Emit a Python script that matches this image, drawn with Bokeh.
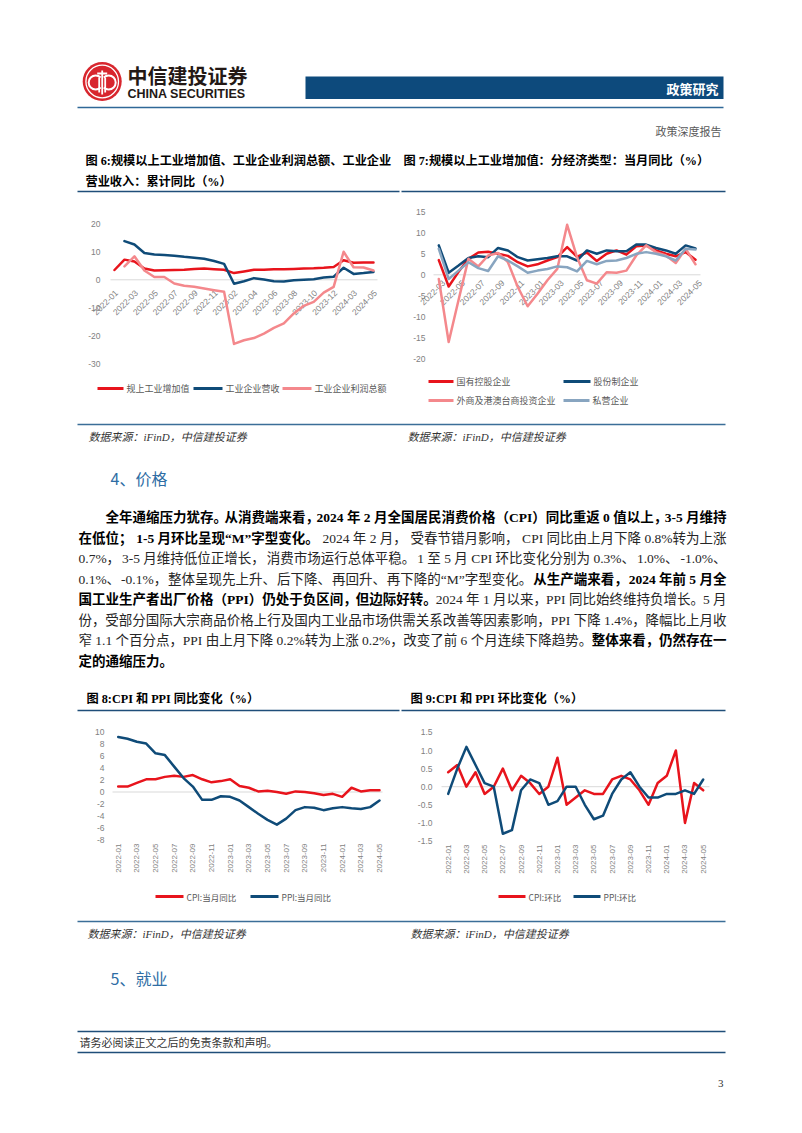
import math
from bokeh.plotting import figure
from bokeh.models import Range1d
from bokeh.core.properties import value
from bokeh.embed import file_html
from bokeh.resources import INLINE

nan = float("nan")

# ------------------------------------------------------------------ data
# Fig 6: cumulative YoY (%)
fig6_months = ["2022-01", "2022-02", "2022-03", "2022-04", "2022-05", "2022-06", "2022-07",
               "2022-08", "2022-09", "2022-10", "2022-11", "2022-12", "2023-02", "2023-03",
               "2023-04", "2023-05", "2023-06", "2023-07", "2023-08", "2023-09", "2023-10",
               "2023-11", "2023-12", "2024-02", "2024-03", "2024-04", "2024-05"]
fig6_value_added = [3.5, 7.2, 6.5, 4.0, 3.3, 3.4, 3.5, 3.6, 3.9, 4.0, 3.8, 3.6, 2.4, 3.0,
                    3.6, 3.6, 3.8, 3.8, 3.9, 4.0, 4.1, 4.3, 4.6, 7.0, 6.1, 6.2, 6.2]
fig6_revenue = [nan, 13.8, 12.6, 9.6, 9.0, 8.9, 8.6, 8.2, 7.9, 7.5, 6.7, 5.7, -1.4, -0.5,
                0.6, 0.1, -0.5, -0.6, -0.2, 0.0, 0.2, 0.8, 1.1, 4.3, 2.1, 2.4, 2.8]
fig6_profit = [nan, 4.8, 8.4, 3.3, 1.0, 1.0, -1.3, -2.1, -2.5, -3.1, -3.7, -4.3, -22.9, -21.6,
               -20.8, -19.2, -17.2, -15.6, -12.0, -9.3, -7.9, -4.6, -2.5, 10.0, 4.5, 4.4, 3.3]
fig6_yticks = [20, 10, 0, -10, -20, -30]
fig6_names = ["规上工业增加值", "工业企业营收", "工业企业利润总额"]

# Fig 7: monthly YoY by ownership (%)
fig7_months = ["2022-03", "2022-04", "2022-05", "2022-06", "2022-07", "2022-08", "2022-09",
               "2022-10", "2022-11", "2022-12", "2023-01", "2023-02", "2023-03", "2023-04",
               "2023-05", "2023-06", "2023-07", "2023-08", "2023-09", "2023-10", "2023-11",
               "2023-12", "2024-01", "2024-02", "2024-03", "2024-04", "2024-05"]
fig7_state = [3.5, -2.8, 0.7, 3.8, 5.3, 5.5, 5.0, 4.5, 3.0, 2.0, 2.5, 3.4, 4.2, 6.6,
              4.3, 5.3, 3.3, 5.0, 5.8, 4.8, 6.8, 7.0, 5.8, 5.0, 4.4, 5.4, 3.6]
fig7_shareholding = [7.0, 0.5, 2.2, 4.0, 4.4, 4.2, 6.4, 5.8, 4.2, 3.4, 3.7, 4.0, 4.4, 4.4,
                     3.4, 5.8, 5.0, 5.8, 5.6, 5.6, 7.2, 7.2, 6.4, 5.8, 5.0, 7.0, 6.3]
fig7_foreign = [-1.0, -16.0, -6.0, 3.8, 2.0, 4.6, 5.2, 3.0, -2.9, -7.5, -4.5, -1.3, 1.4, 11.9,
                4.2, -1.3, -2.1, 0.6, 0.5, 1.0, 4.6, 7.0, 5.4, 4.6, 2.8, 6.2, 2.5]
fig7_private = [6.2, -1.0, 1.0, 3.0, 1.6, 0.9, 4.4, 3.4, 2.0, 0.5, 1.0, 1.4, 2.0, 1.8,
                0.8, 3.3, 2.5, 3.3, 3.4, 4.0, 5.0, 5.4, 5.0, 4.4, 3.4, 6.2, 6.0]
fig7_yticks = [15, 10, 5, 0, -5, -10, -15, -20]
fig7_names = ["国有控股企业", "股份制企业", "外商及港澳台商投资企业", "私营企业"]

# Fig 8 / Fig 9: CPI and PPI (%)
fig89_months = ["2022-01", "2022-02", "2022-03", "2022-04", "2022-05", "2022-06", "2022-07",
                "2022-08", "2022-09", "2022-10", "2022-11", "2022-12", "2023-01", "2023-02",
                "2023-03", "2023-04", "2023-05", "2023-06", "2023-07", "2023-08", "2023-09",
                "2023-10", "2023-11", "2023-12", "2024-01", "2024-02", "2024-03", "2024-04",
                "2024-05"]
fig8_cpi_yoy = [0.9, 0.9, 1.5, 2.1, 2.1, 2.5, 2.7, 2.5, 2.8, 2.1, 1.6, 1.8, 2.1, 1.0, 0.7,
                0.1, 0.2, 0.0, -0.3, 0.1, 0.0, -0.2, -0.5, -0.3, -0.8, 0.7, 0.1, 0.3, 0.3]
fig8_ppi_yoy = [9.1, 8.8, 8.3, 8.0, 6.4, 6.1, 4.2, 2.3, 0.9, -1.3, -1.3, -0.7, -0.8, -1.4, -2.5,
                -3.6, -4.6, -5.4, -4.4, -3.0, -2.5, -2.6, -3.0, -2.7, -2.5, -2.7, -2.8, -2.5, -1.4]
fig8_yticks = [10, 8, 6, 4, 2, 0, -2, -4, -6, -8]
fig8_names = ["CPI:当月同比", "PPI:当月同比"]

fig9_cpi_mom = [0.4, 0.6, 0.0, 0.4, -0.2, 0.0, 0.5, -0.1, 0.3, 0.1, -0.2, 0.0, 0.8, -0.5, -0.3,
                -0.1, -0.2, -0.2, 0.2, 0.3, 0.2, -0.1, -0.5, 0.1, 0.3, 1.0, -1.0, 0.1, -0.1]
fig9_ppi_mom = [-0.2, 0.5, 1.1, 0.6, 0.1, 0.0, -1.3, -1.2, -0.1, 0.2, 0.1, -0.5, -0.4, 0.0, 0.0,
                -0.5, -0.9, -0.8, -0.2, 0.2, 0.4, 0.0, -0.3, -0.3, -0.2, -0.2, -0.1, -0.2, 0.2]
fig9_yticks = [1.5, 1.0, 0.5, 0.0, -0.5, -1.0, -1.5]
fig9_names = ["CPI:环比", "PPI:环比"]

# body text: one list of (text, style) runs per printed line
para_lines = [
    [("全年通缩压力犹存。从消费端来看，2024 年 2 月全国居民消费价格（CPI）同比重返 0 值以上，3-5 月维持", "bold")],
    [("在低位；1-5 月环比呈现“M”字型变化。", "bold"),
     ("2024 年 2 月，受春节错月影响，CPI 同比由上月下降 0.8%转为上涨", "normal")],
    [("0.7%，3-5 月维持低位正增长，消费市场运行总体平稳。1 至 5 月 CPI 环比变化分别为 0.3%、1.0%、-1.0%、", "normal")],
    [("0.1%、-0.1%，整体呈现先上升、后下降、再回升、再下降的“M”字型变化。", "normal"),
     ("从生产端来看，2024 年前 5 月全", "bold")],
    [("国工业生产者出厂价格（PPI）仍处于负区间，但边际好转。", "bold"),
     ("2024 年 1 月以来，PPI 同比始终维持负增长。5 月", "normal")],
    [("份，受部分国际大宗商品价格上行及国内工业品市场供需关系改善等因素影响，PPI 下降 1.4%，降幅比上月收", "normal")],
    [("窄 1.1 个百分点，PPI 由上月下降 0.2%转为上涨 0.2%，改变了前 6 个月连续下降趋势。", "normal"),
     ("整体来看，仍然存在一", "bold")],
    [("定的通缩压力。", "bold")],
]

# ------------------------------------------------------------------ styles
RED = "#E8141C"
NAVY = "#0F4B78"
PINK = "#F4888C"
STEEL = "#88A5C0"
TICK = "#7F7F7F"
LEG = "#595959"
RULE = "#1F4E79"
CJK = "Noto Sans CJK SC"
MIX = "Liberation Serif, Noto Sans CJK SC"
SANS = "Liberation Sans"
TITLE_FS = 12.2

W, H = 802, 1133

p = figure(width=W, height=H, x_range=Range1d(0, W), y_range=Range1d(H, 0),
           output_backend="svg", toolbar_location=None, tools="",
           x_axis_type=None, y_axis_type=None, min_border=0,
           outline_line_color=None, background_fill_color="white",
           border_fill_color="white")


def txt(x, y, s, size, color="#000000", style="normal", align="left", font=CJK,
        baseline="middle"):
    p.text(x=[x], y=[y], text=[s], text_font=value(font),
           text_font_size=value(f"{size}px"), text_font_style=style, text_color=color,
           text_align=align, text_baseline=baseline)


def hline(x0, x1, y, color=RULE, width=1.5):
    p.segment(x0=[x0], y0=[y], x1=[x1], y1=[y], line_color=color, line_width=width)


def make_chart(name, px0, i0, px1, i1, pya, va, pyb, vb):
    sx = (px1 - px0) / (i1 - i0)
    ky = (pya - pyb) / (va - vb)
    xr = dict(p.extra_x_ranges)
    xr[name] = Range1d(start=i0 - px0 / sx, end=i0 + (W - px0) / sx)
    p.extra_x_ranges = xr
    yr = dict(p.extra_y_ranges)
    yr[name] = Range1d(start=va + (H - pya) / ky, end=va - pya / ky)
    p.extra_y_ranges = yr

    def xv(px):
        return i0 + (px - px0) / sx

    def yv(py):
        return va + (py - pya) / ky
    return name, xv, yv


def chart_body(ch, series, yticks, tick_fmt, tick_right, tick_size, zero_l, zero_r,
               months, lab_y, lab_angle, lab_dx, lab_size):
    name, xv, yv = ch
    p.segment(x0=[xv(zero_l)], y0=[0], x1=[xv(zero_r)], y1=[0], line_color="#D9D9D9",
              line_width=1, x_range_name=name, y_range_name=name)
    p.text(x=[xv(tick_right)] * len(yticks), y=yticks, text=[tick_fmt(t) for t in yticks],
           text_font=value(SANS), text_font_size=value(f"{tick_size}px"), text_color=TICK,
           text_align="right", text_baseline="middle", x_range_name=name, y_range_name=name)
    idx = list(range(0, len(months), 2))
    p.text(x=idx, y=[yv(lab_y)] * len(idx), text=[months[i] for i in idx],
           text_font=value(SANS), text_font_size=value(f"{lab_size}px"), text_color=TICK,
           text_align="right", text_baseline="middle", angle=lab_angle, x_offset=lab_dx,
           x_range_name=name, y_range_name=name)
    for ys, color in series:
        p.line(x=list(range(len(ys))), y=ys, line_color=color, line_width=2.5,
               line_join="round", line_cap="round", x_range_name=name, y_range_name=name)


def legend_item(x0, x1, y, color, label, size):
    hline(x0, x1, y, color=color, width=3)
    txt(x1 + 3, y, label, size, color=LEG)


# ------------------------------------------------------------------ header
cx, cy = 101.7, 81
p.circle(x=[cx], y=[cy], radius=19.5, fill_color="#D8262E", line_color=None)
p.circle(x=[cx], y=[cy], radius=16.3, fill_color=None, line_color="white", line_width=1.3)
p.arc(x=[cx - 6.5], y=[cy + 1], radius=7, start_angle=math.radians(45),
      end_angle=math.radians(315), line_color="white", line_width=2)
p.arc(x=[cx + 6.5], y=[cy + 1], radius=7, start_angle=math.radians(-135),
      end_angle=math.radians(135), line_color="white", line_width=2)
p.segment(x0=[cx, cx - 5, cx - 3, cx + 3], y0=[cy - 11, cy - 8, cy - 4, cy - 4],
          x1=[cx, cx + 5, cx - 3, cx + 3], y1=[cy + 13, cy - 8, cy + 11, cy + 11],
          line_color="white", line_width=1.8)

txt(127, 75, "中信建投证券", 20, color="#231815", style="bold")
txt(127, 93.5, "CHINA SECURITIES", 12.5, color="#231815", style="bold", font=SANS)
p.quad(left=[305], right=[723], top=[76], bottom=[98.5], fill_color="#0D4A7C", line_color=None)
txt(718, 88, "政策研究", 13, color="white", style="bold", align="right")
hline(77, 723, 107, color="#2F6897", width=1.5)
txt(721, 130, "政策深度报告", 11, color="#595959", align="right")

# ------------------------------------------------------------------ fig 6 & 7
txt(85, 160, "图 6:规模以上工业增加值、工业企业利润总额、工业企业", TITLE_FS, style="bold", font=MIX)
txt(85, 181, "营业收入：累计同比（%）", TITLE_FS, style="bold", font=MIX)
txt(403, 160, "图 7:规模以上工业增加值：分经济类型：当月同比（%）", TITLE_FS, style="bold", font=MIX)
hline(77, 399, 191)
hline(401, 725, 191)

c6 = make_chart("c6", 114, 0, 373, 26, 279.3, 0, 223.3, 20)
chart_body(c6, [(fig6_value_added, RED), (fig6_revenue, NAVY), (fig6_profit, PINK)],
           fig6_yticks, lambda t: f"{t:d}", 100, 8.5, 110, 377, fig6_months,
           291, math.pi / 4, 2, 8.5)
legend_item(97, 123, 388, RED, fig6_names[0], 9)
legend_item(193, 222, 388, NAVY, fig6_names[1], 9)
legend_item(282, 311, 388, PINK, fig6_names[2], 9)

c7 = make_chart("c7", 438.3, 0, 695, 26, 274.3, 0, 253.3, 5)
chart_body(c7, [(fig7_state, RED), (fig7_shareholding, NAVY), (fig7_foreign, PINK),
                (fig7_private, STEEL)],
           fig7_yticks, lambda t: f"{t:d}", 425, 8.5, 433, 700, fig7_months,
           281, math.pi / 4, 5, 8.5)
legend_item(428, 453, 381, RED, fig7_names[0], 9)
legend_item(563, 590, 381, NAVY, fig7_names[1], 9)
legend_item(428, 453, 400, PINK, fig7_names[2], 9)
legend_item(563, 589, 400, STEEL, fig7_names[3], 9)

hline(77, 725, 424, color="#3B6E98", width=1.5)
txt(88, 436.5, "数据来源：iFinD，中信建投证券", 11, color="#333333", style="italic", font=MIX)
txt(407, 436.5, "数据来源：iFinD，中信建投证券", 11, color="#333333", style="italic", font=MIX)

# ------------------------------------------------------------------ body text
txt(110, 477, "4、价格", 16, color="#2E6DA4")

# advance widths (em) of the Latin glyphs (Times metrics); CJK glyphs are 1 em
LAT_R = {" ": .25, ".": .25, "%": .833, "-": .333, "C": .667, "P": .556, "I": .333,
         "M": .889, "“": .444, "”": .444}
LAT_B = {" ": .25, ".": .25, "%": 1.0, "-": .333, "C": .722, "P": .611, "I": .389,
         "M": .944, "“": .5, "”": .5}
PUNCT = "，、。；："


def em_width(s, style):
    tab = LAT_B if style == "bold" else LAT_R
    w = 0.0
    for ch in s:
        if ch.isdigit():
            w += 0.5
        elif ch in tab:
            w += tab[ch]
        else:
            w += 1.0
    return w


def split_chunks(runs):
    out = []
    for s, st in runs:
        cur = ""
        for ch in s:
            cur += ch
            if ch in PUNCT:
                out.append((cur, st))
                cur = ""
        if cur:
            out.append((cur, st))
    return out


FS = 13.5
LEFT, RIGHT, INDENT = 78, 726, 105
for k, runs in enumerate(para_lines):
    y = 517 + 20.5 * k
    x0 = INDENT if k == 0 else LEFT
    chunks = split_chunks(runs)
    widths = [em_width(s, st) * FS for s, st in chunks]
    last = k == len(para_lines) - 1
    gap = 0.0
    if not last and len(chunks) > 1:
        gap = (RIGHT - x0 - sum(widths)) / (len(chunks) - 1)
    x = x0
    for (s, st), w in zip(chunks, widths):
        col = "#000000" if st == "bold" else "#262626"
        txt(x, y, s, FS, color=col, style=st, font=MIX)
        x += w + gap

# ------------------------------------------------------------------ fig 8 & 9
txt(86, 698, "图 8:CPI 和 PPI 同比变化（%）", TITLE_FS, style="bold", font=MIX)
txt(410, 698, "图 9:CPI 和 PPI 环比变化（%）", TITLE_FS, style="bold", font=MIX)
hline(77, 399, 710)
hline(401, 725, 710)

c8 = make_chart("c8", 117.7, 0, 379, 28, 791.5, 0, 731, 10)
chart_body(c8, [(fig8_cpi_yoy, RED), (fig8_ppi_yoy, NAVY)],
           fig8_yticks, lambda t: f"{t:d}", 104, 8.5, 112, 382, fig89_months,
           843, math.pi / 2, 0, 8)
legend_item(155, 183, 896, RED, fig8_names[0], 8.5)
legend_item(250, 278, 896, NAVY, fig8_names[1], 8.5)

c9 = make_chart("c9", 447.7, 0, 702.7, 28, 786.2, 0, 731.9, 1.5)
chart_body(c9, [(fig9_cpi_mom, RED), (fig9_ppi_mom, NAVY)],
           fig9_yticks, lambda t: f"{t:.1f}", 432, 8.5, 441, 709, fig89_months,
           844, math.pi / 2, 0, 8)
legend_item(498, 525, 896, RED, fig9_names[0], 8.5)
legend_item(573, 600, 896, NAVY, fig9_names[1], 8.5)

hline(77, 725, 921, color="#3B6E98", width=1.5)
txt(87, 933, "数据来源：iFinD，中信建投证券", 11, color="#333333", style="italic", font=MIX)
txt(410, 933, "数据来源：iFinD，中信建投证券", 11, color="#333333", style="italic", font=MIX)

# ------------------------------------------------------------------ footer
txt(110, 977, "5、就业", 16, color="#2E6DA4")
hline(77, 725, 1031)
txt(79, 1041.5, "请务必阅读正文之后的免责条款和声明。", 11, color="#333333")
hline(77, 725, 1052)
txt(723, 1083, "3", 11, color="#333333", align="right", font="Liberation Serif")

open("out.html", "w").write(file_html(p, INLINE))
